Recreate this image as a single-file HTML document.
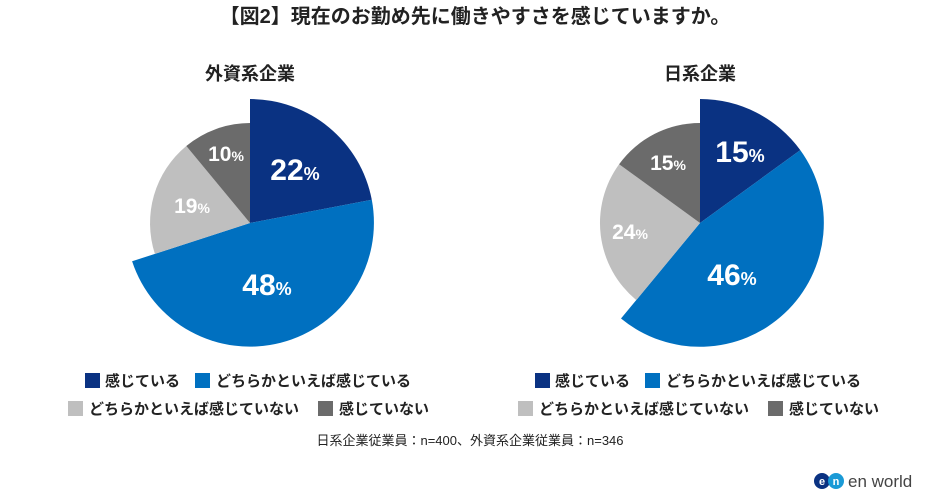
<!DOCTYPE html>
<html><head><meta charset="utf-8"><style>
body{margin:0;background:#fff;}
svg text{font-family:"Liberation Sans","Noto Sans CJK JP",sans-serif;}
</style></head><body>
<svg width="950" height="497" viewBox="0 0 950 497" xmlns="http://www.w3.org/2000/svg">
<rect width="950" height="497" fill="#fff"/>
<text x="475" y="23" text-anchor="middle" font-size="20" font-weight="bold" fill="#222">【図2】現在のお勤め先に働きやすさを感じていますか。</text>
<text x="250" y="80" text-anchor="middle" font-size="18" font-weight="bold" fill="#222">外資系企業</text>
<text x="700" y="80" text-anchor="middle" font-size="18" font-weight="bold" fill="#222">日系企業</text>
<!-- pie 1 -->
<path d="M250,223 L250,99 A124,124 0 0 1 371.8,199.8 Z" fill="#0a3282"/>
<path d="M250,223 L371.8,199.8 A124,124 0 0 1 132.1,261.3 Z" fill="#0070c0"/>
<path d="M250,223 L154.9,253.9 A100,100 0 0 1 186.3,146.0 Z" fill="#bfbfbf"/>
<path d="M250,223 L186.3,146.0 A100,100 0 0 1 250,123 Z" fill="#6b6b6b"/>
<g fill="#fff" font-weight="bold">
<text x="295" y="180" text-anchor="middle"><tspan font-size="30">22</tspan><tspan font-size="18">%</tspan></text>
<text x="267" y="295" text-anchor="middle"><tspan font-size="30">48</tspan><tspan font-size="18">%</tspan></text>
<text x="192" y="213" text-anchor="middle"><tspan font-size="21">19</tspan><tspan font-size="14">%</tspan></text>
<text x="226" y="161" text-anchor="middle"><tspan font-size="21">10</tspan><tspan font-size="14">%</tspan></text>
</g>
<!-- pie 2 -->
<path d="M700,223 L700,99 A124,124 0 0 1 800.3,150.1 Z" fill="#0a3282"/>
<path d="M700,223 L800.3,150.1 A124,124 0 0 1 621.0,318.5 Z" fill="#0070c0"/>
<path d="M700,223 L636.3,300.1 A100,100 0 0 1 619.1,164.2 Z" fill="#bfbfbf"/>
<path d="M700,223 L619.1,164.2 A100,100 0 0 1 700,123 Z" fill="#6b6b6b"/>
<g fill="#fff" font-weight="bold">
<text x="740" y="162" text-anchor="middle"><tspan font-size="30">15</tspan><tspan font-size="18">%</tspan></text>
<text x="732" y="285" text-anchor="middle"><tspan font-size="30">46</tspan><tspan font-size="18">%</tspan></text>
<text x="630" y="239" text-anchor="middle"><tspan font-size="21">24</tspan><tspan font-size="14">%</tspan></text>
<text x="668" y="170" text-anchor="middle"><tspan font-size="21">15</tspan><tspan font-size="14">%</tspan></text>
</g>
<!-- legends -->
<g font-size="15" font-weight="bold" fill="#222">
<rect x="85" y="373" width="15" height="15" fill="#0a3282"/><text x="105" y="386">感じている</text>
<rect x="195" y="373" width="15" height="15" fill="#0070c0"/><text x="216" y="386">どちらかといえば感じている</text>
<rect x="68" y="401" width="15" height="15" fill="#bfbfbf"/><text x="89" y="414">どちらかといえば感じていない</text>
<rect x="318" y="401" width="15" height="15" fill="#6b6b6b"/><text x="339" y="414">感じていない</text>
<rect x="535" y="373" width="15" height="15" fill="#0a3282"/><text x="555" y="386">感じている</text>
<rect x="645" y="373" width="15" height="15" fill="#0070c0"/><text x="666" y="386">どちらかといえば感じている</text>
<rect x="518" y="401" width="15" height="15" fill="#bfbfbf"/><text x="539" y="414">どちらかといえば感じていない</text>
<rect x="768" y="401" width="15" height="15" fill="#6b6b6b"/><text x="789" y="414">感じていない</text>
</g>
<text x="470" y="445" text-anchor="middle" font-size="13" fill="#222">日系企業従業員：n=400、外資系企業従業員：n=346</text>
<!-- logo -->
<circle cx="822" cy="481" r="8" fill="#0a3282"/>
<circle cx="836" cy="481" r="8" fill="#1a9ad6"/>
<text x="822" y="485" text-anchor="middle" font-size="11" font-weight="bold" fill="#fff">e</text>
<text x="836" y="485" text-anchor="middle" font-size="11" font-weight="bold" fill="#fff">n</text>
<text x="848" y="487" font-size="17" fill="#444">en world</text>
</svg>
</body></html>
